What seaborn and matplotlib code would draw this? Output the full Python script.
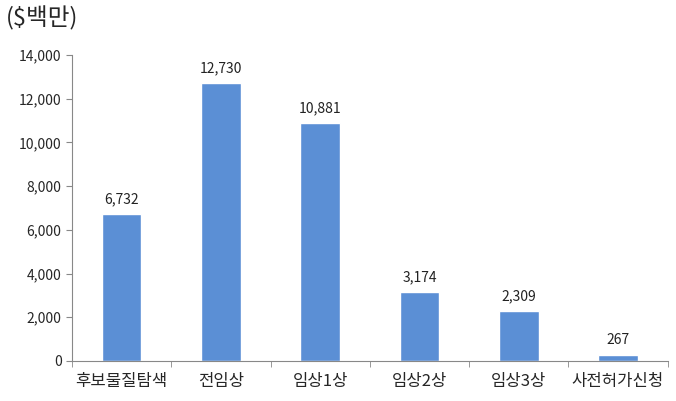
import numpy as np
import pandas as pd
import matplotlib
matplotlib.use('Agg')
import matplotlib.pyplot as plt
import seaborn as sns
from matplotlib.ticker import FuncFormatter, FixedLocator

categories = ['후보물질탐색', '전임상', '임상1상', '임상2상', '임상3상', '사전허가신청']
values = [6732, 12730, 10881, 3174, 2309, 267]
y_ticks = [0, 2000, 4000, 6000, 8000, 10000, 12000, 14000]

sns.set_style('white')
plt.rcParams['font.family'] = ['Noto Sans CJK KR', 'DejaVu Sans']

df = pd.DataFrame({'stage': categories, 'value': values})

fig = plt.figure(figsize=(6.76, 4.01), dpi=100)
ax = fig.add_axes([0.1065, 0.0998, 0.881, 0.763])
sns.barplot(data=df, x='stage', y='value', color='#5b8fd5', width=0.4,
            saturation=1, ax=ax)

for i, v in enumerate(values):
    ax.text(i, v + 350, f'{v:,}', ha='center', va='bottom', fontsize=10, color='#222222')

ax.set_ylim(0, 14000)
ax.set_xlim(-0.5, len(categories) - 0.5)
ax.set_yticks(y_ticks)
ax.yaxis.set_major_formatter(FuncFormatter(lambda x, p: f'{int(x):,}'))
ax.tick_params(axis='y', labelsize=10, length=4, color='#888888', direction='out', left=True)
ax.tick_params(axis='x', labelsize=12, length=0, pad=9)
ax.xaxis.set_minor_locator(FixedLocator(np.arange(-0.5, len(categories), 1)))
ax.tick_params(axis='x', which='minor', length=4, color='#888888', bottom=True, direction='out')
ax.set_xlabel('')
ax.set_ylabel('')

for s in ['top', 'right']:
    ax.spines[s].set_visible(False)
for s in ['left', 'bottom']:
    ax.spines[s].set_color('#888888')
    ax.spines[s].set_linewidth(0.8)

fig.text(0.008, 0.925, '($백만)', fontsize=17, ha='left', va='bottom')

fig.savefig('out.png', dpi=100)
